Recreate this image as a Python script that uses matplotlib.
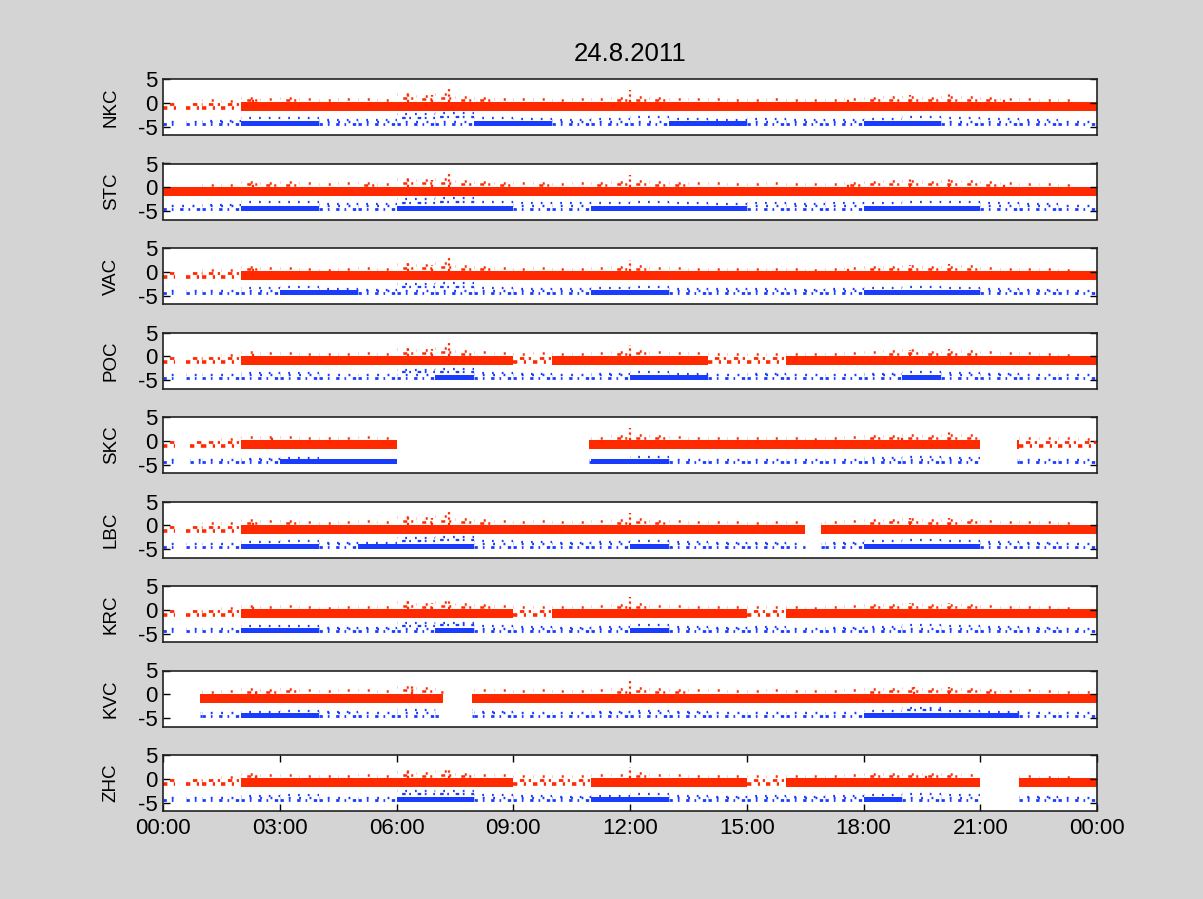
import matplotlib.pyplot as plt
import numpy as np

plt.rcParams['font.family'] = ['Liberation Sans', 'DejaVu Sans']

title = '24.8.2011'
stations = ['NKC', 'STC', 'VAC', 'POC', 'SKC', 'LBC', 'KRC', 'KVC', 'ZHC']

# hours (from 00:00) when each station delivered data
active = {
    'NKC': [(0, 0.35), (0.6, 24)],
    'STC': [(0, 24)],
    'VAC': [(0, 0.3), (0.6, 24)],
    'POC': [(0, 0.3), (0.6, 24)],
    'SKC': [(0, 0.3), (0.7, 6.0), (10.95, 21.0), (21.95, 24)],
    'LBC': [(0, 0.3), (0.6, 16.5), (16.9, 24)],
    'KRC': [(0, 0.3), (0.6, 24)],
    'KVC': [(0.95, 7.2), (7.95, 24)],
    'ZHC': [(0, 0.3), (0.6, 21.0), (22.0, 24)],
}

# half-hourly upper edge of the red trace
red_top = {
    'NKC': [-0.2, 0.0, 0.3, 0.2, 0.8, 0.6, 0.7, 0.5, 0.3, 0.5, 0.6, 0.3, 1.5, 1.2, 1.6, 1.0, 0.8, 0.6, 0.5, 0.6, 0.4, 0.5, 0.6, 0.8,
            1.0, 0.7, 0.6, 0.5, 0.5, 0.4, 0.3, 0.5, 0.4, 0.3, 0.3, 0.6, 0.8, 0.9, 1.0, 0.8, 0.9, 1.0, 0.7, 0.5, 0.6, 0.4, 0.3, 0.0],
    'STC': [-0.4, -0.2, 0.2, 0.3, 0.9, 0.7, 0.8, 0.6, 0.4, 0.6, 0.7, 0.5, 1.4, 1.3, 1.5, 1.1, 0.9, 0.7, 0.6, 0.7, 0.5, 0.6, 0.7, 0.9,
            1.1, 0.8, 0.7, 0.6, 0.6, 0.5, 0.4, 0.6, 0.5, 0.4, 0.4, 0.7, 0.9, 1.0, 1.1, 0.9, 1.0, 1.0, 0.8, 0.6, 0.5, 0.4, 0.2, -0.2],
    'VAC': [-0.4, -0.2, 0.1, 0.2, 0.7, 0.5, 0.6, 0.4, 0.2, 0.4, 0.5, 0.3, 1.3, 1.1, 1.6, 0.9, 0.7, 0.5, 0.4, 0.5, 0.3, 0.4, 0.5, 0.7,
            0.9, 0.6, 0.5, 0.4, 0.4, 0.3, 0.3, 0.4, 0.3, 0.2, 0.3, 0.5, 0.7, 0.8, 0.9, 0.7, 0.8, 0.9, 0.6, 0.4, 0.4, 0.3, 0.2, -0.2],
    'POC': [-0.4, -0.3, 0.0, 0.1, 0.6, 0.4, 0.5, 0.3, 0.2, 0.3, 0.4, 0.2, 1.2, 1.0, 1.5, 0.8, 0.6, 0.4, 0.3, 0.4, 0.3, 0.3, 0.4, 0.7,
            0.9, 0.6, 0.5, 0.4, 0.3, 0.3, 0.2, 0.3, 0.3, 0.2, 0.2, 0.4, 0.6, 0.8, 1.0, 0.7, 0.7, 0.8, 0.6, 0.4, 0.4, 0.3, 0.1, -0.2],
    'SKC': [-0.4, -0.3, 0.0, 0.2, 0.6, 0.5, 0.6, 0.4, 0.3, 0.4, 0.5, 0.3, 0.0, 0.0, 0.0, 0.0, 0.0, 0.0, 0.0, 0.0, 0.0, 0.0, 0.4, 0.7,
            1.0, 0.7, 0.6, 0.4, 0.4, 0.3, 0.3, 0.4, 0.3, 0.2, 0.3, 0.5, 0.7, 0.8, 1.0, 0.8, 0.9, 1.0, 0.3, 0.0, 0.4, 0.3, 0.3, 0.1],
    'LBC': [-0.4, -0.2, 0.2, 0.3, 0.8, 0.6, 0.7, 0.5, 0.3, 0.5, 0.6, 0.4, 1.4, 1.2, 1.6, 1.0, 0.8, 0.6, 0.5, 0.6, 0.4, 0.5, 0.6, 0.8,
            1.0, 0.7, 0.6, 0.5, 0.4, 0.4, 0.3, 0.5, 0.4, 0.3, 0.4, 0.6, 0.8, 0.9, 1.0, 0.8, 0.8, 0.9, 0.6, 0.4, 0.5, 0.4, 0.2, -0.1],
    'KRC': [-0.4, -0.3, 0.0, 0.2, 0.6, 0.4, 0.5, 0.3, 0.2, 0.3, 0.4, 0.3, 1.3, 1.0, 1.4, 0.9, 0.7, 0.5, 0.3, 0.4, 0.4, 0.4, 0.5, 0.7,
            0.9, 0.6, 0.5, 0.4, 0.4, 0.3, 0.3, 0.4, 0.3, 0.2, 0.3, 0.5, 0.7, 0.8, 0.9, 0.7, 0.8, 0.8, 0.6, 0.4, 0.4, 0.3, 0.1, -0.2],
    'KVC': [0.0, 0.0, 0.3, 0.5, 0.8, 0.7, 0.9, 0.6, 0.5, 0.6, 0.6, 0.4, 1.3, 1.0, 0.8, 0.0, 0.6, 0.6, 0.5, 0.6, 0.5, 0.5, 0.6, 0.8,
            1.0, 0.8, 0.7, 0.6, 0.6, 0.5, 0.5, 0.6, 0.5, 0.4, 0.5, 0.6, 0.8, 0.9, 1.0, 0.9, 0.9, 0.9, 0.7, 0.5, 0.6, 0.5, 0.3, 0.2],
    'ZHC': [-0.4, -0.3, 0.0, 0.2, 0.7, 0.5, 0.6, 0.4, 0.3, 0.4, 0.5, 0.3, 1.2, 1.0, 1.3, 0.8, 0.6, 0.5, 0.3, 0.4, 0.3, 0.4, 0.5, 0.6,
            0.9, 0.6, 0.5, 0.4, 0.4, 0.3, 0.3, 0.4, 0.4, 0.3, 0.3, 0.5, 0.7, 0.7, 0.8, 0.7, 0.7, 0.6, 0.0, 0.0, 0.3, 0.2, 0.1, -0.2],
}

# isolated high points of the red trace: (hour, value)
red_spikes = {
    'NKC': [(2.3, 1.0), (6.3, 2.0), (6.9, 1.6), (7.35, 3.0), (12.0, 2.7), (17.6, 1.0), (19.2, 1.6), (20.2, 1.8), (21.6, 1.2)],
    'STC': [(2.3, 1.2), (6.3, 2.0), (6.9, 1.6), (7.35, 2.9), (12.0, 2.6), (17.6, 1.1), (19.2, 1.7), (20.2, 1.7), (21.6, 1.2)],
    'VAC': [(2.3, 0.9), (6.3, 2.2), (6.9, 1.5), (7.35, 2.9), (12.0, 2.5), (17.6, 0.9), (19.2, 1.5), (20.2, 1.6)],
    'POC': [(2.3, 0.8), (6.3, 1.8), (6.9, 1.5), (7.35, 3.0), (12.0, 2.4), (19.2, 1.4), (20.2, 1.5)],
    'SKC': [(2.8, 1.2), (12.0, 2.6), (19.0, 1.2), (20.2, 1.8)],
    'LBC': [(2.3, 1.0), (6.3, 2.0), (6.9, 1.6), (7.35, 2.9), (12.0, 2.5), (19.2, 1.5), (20.2, 1.6)],
    'KRC': [(2.3, 0.9), (6.3, 1.9), (6.9, 1.4), (7.35, 2.2), (12.0, 2.6), (19.2, 1.4), (20.2, 1.5)],
    'KVC': [(2.4, 1.2), (6.4, 2.2), (12.0, 3.1), (19.3, 1.6), (20.2, 1.5)],
    'ZHC': [(2.4, 0.8), (6.3, 1.8), (7.35, 2.2), (12.0, 2.5), (19.6, 1.3)],
}

# hours where the red trace is only loosely dotted
red_sparse = {
    'NKC': [0, 1], 'STC': [], 'VAC': [0, 1], 'POC': [0, 1, 9, 14, 15], 'SKC': [0, 1, 22, 23],
    'LBC': [0, 1], 'KRC': [0, 1, 9, 15], 'KVC': [], 'ZHC': [0, 1, 9, 10, 15],
}

# hourly upper edge of the blue trace
blue_peak = {
    'NKC': [-4.2, -3.7, -3.2, -3.1, -3.5, -3.6, -2.4, -2.1, -3.2, -3.4, -3.5, -3.3, -3.0, -3.3, -3.5, -3.4, -3.6, -3.5, -3.3, -3.0, -3.1, -3.4, -3.6, -4.0],
    'STC': [-4.0, -3.6, -3.0, -3.0, -3.4, -3.4, -2.5, -2.2, -3.0, -3.2, -3.3, -3.2, -3.0, -3.2, -3.4, -3.3, -3.5, -3.3, -3.2, -3.0, -3.0, -3.2, -3.4, -3.8],
    'VAC': [-4.5, -3.9, -3.4, -3.2, -3.5, -3.7, -2.6, -2.4, -3.3, -3.5, -3.6, -3.4, -3.2, -3.5, -3.6, -3.5, -3.7, -3.6, -3.4, -3.2, -3.3, -3.5, -3.7, -4.2],
    'POC': [-4.5, -4.0, -3.5, -3.4, -3.8, -3.8, -2.8, -2.6, -3.4, -3.6, -3.8, -3.6, -3.3, -3.6, -3.8, -3.7, -3.8, -3.8, -3.6, -3.3, -3.4, -3.6, -3.8, -4.2],
    'SKC': [-4.5, -4.0, -3.7, -3.5, -3.8, -3.8, -4.0, -4.0, -4.0, -4.0, -4.0, -3.9, -3.4, -3.8, -3.9, -3.8, -3.9, -3.9, -3.6, -3.4, -3.5, -3.8, -3.9, -4.2],
    'LBC': [-4.6, -4.0, -3.4, -3.2, -3.6, -3.6, -2.6, -2.4, -3.3, -3.5, -3.6, -3.4, -3.2, -3.5, -3.6, -3.6, -3.8, -3.6, -3.3, -3.0, -3.2, -3.4, -3.6, -4.2],
    'KRC': [-4.6, -4.0, -3.4, -3.3, -3.7, -3.7, -2.8, -2.7, -3.4, -3.6, -3.7, -3.5, -3.2, -3.6, -3.7, -3.6, -3.8, -3.7, -3.5, -3.2, -3.4, -3.5, -3.7, -4.2],
    'KVC': [-4.5, -4.0, -3.6, -3.4, -3.7, -3.8, -3.2, -3.2, -3.6, -3.8, -3.8, -3.7, -3.4, -3.7, -3.8, -3.8, -3.9, -3.8, -3.4, -2.8, -3.4, -3.6, -3.8, -4.0],
    'ZHC': [-4.6, -4.0, -3.5, -3.4, -3.8, -3.8, -2.6, -2.6, -3.4, -3.6, -3.7, -3.5, -3.2, -3.6, -3.7, -3.6, -3.7, -3.6, -3.3, -3.2, -3.4, -3.6, -3.7, -4.2],
}

# hours with a dense (solid looking) blue band
blue_dense = {
    'NKC': [2, 3, 8, 9, 13, 14, 18, 19],
    'STC': [2, 3, 6, 7, 8, 11, 12, 13, 14, 18, 19, 20],
    'VAC': [3, 4, 11, 12, 18, 19, 20],
    'POC': [7, 12, 13, 19],
    'SKC': [3, 4, 5, 11, 12],
    'LBC': [2, 3, 5, 6, 7, 12, 18, 19, 20],
    'KRC': [2, 3, 7, 12],
    'KVC': [2, 3, 18, 19, 20, 21],
    'ZHC': [6, 7, 11, 12, 18],
}

red_col = '#ff2a00'
blue_col = '#1a3cff'
xtick_hours = [0, 3, 6, 9, 12, 15, 18, 21, 24]
xtick_labels = ['00:00', '03:00', '06:00', '09:00', '12:00', '15:00', '18:00', '21:00', '00:00']

# dash patterns that give the dotted look of sparse samples
dust_a = (0, (1.2, 1.8, 0.6, 2.4))
dust_b = (1.5, (0.8, 3.0, 1.6, 1.6))
dust_c = (0.7, (0.8, 3.6))


def pieces(intervals, step):
    # cut the active intervals into pieces lying inside single bins
    out = []
    for a, b in intervals:
        k0, k1 = int(np.floor(a / step)), int(np.ceil(b / step))
        for k in range(k0, k1):
            lo, hi = max(a, k * step), min(b, (k + 1) * step)
            if hi > lo:
                out.append((k, lo, hi - lo))
    return out


def runs(spans):
    # merge touching (left, width) spans so solid bands have no seams
    merged = []
    for left, width in spans:
        if merged and abs(merged[-1][0] + merged[-1][1] - left) < 1e-9:
            merged[-1][1] += width
        else:
            merged.append([left, width])
    return merged


def row(ax, y, left, width, color, style, lw=2.0):
    ax.hlines(y, left, left + width, colors=color, linestyles=style, linewidth=lw)


def solid(ax, spans, bottom, h, color):
    for left, width in runs(spans):
        ax.bar(left, h, width=width, bottom=bottom, align='edge', color=color, linewidth=0)


def draw_red(ax, st):
    base, core = -1.7, 0.1
    filled = []
    for k, left, width in pieces(active[st], 0.5):
        if k // 2 in red_sparse[st]:
            row(ax, -1.1, left, width, red_col, dust_a, 2.6)
            row(ax, -0.3, left, width, red_col, dust_b, 2.0)
        else:
            filled.append((left, width))
        top = red_top[st][k] + 0.3
        if top > core + 0.2:
            row(ax, top, left, width, red_col, dust_c, 1.8)
            if top - core > 0.8:
                row(ax, (top + core) / 2, left, width, red_col, dust_b, 1.8)
    solid(ax, filled, base, core - base, red_col)
    for t, v in red_spikes[st]:
        ax.vlines(t, core, v, colors=red_col, linewidth=1.6, linestyles=(0, (1, 1.4)))


def draw_blue(ax, st):
    base, core = -4.9, -3.8
    filled = []
    for k, left, width in pieces(active[st], 1.0):
        if k in blue_dense[st]:
            filled.append((left, width))
        else:
            row(ax, -4.5, left, width, blue_col, dust_a, 2.0)
            row(ax, -3.9, left, width, blue_col, dust_c, 1.7)
        top = blue_peak[st][k]
        if top > core:
            row(ax, top, left, width, blue_col, dust_c, 1.6)
            if top - core > 0.8:
                row(ax, (top + core) / 2, left, width, blue_col, dust_b, 1.6)
    solid(ax, filled, base, core - base, blue_col)


fig = plt.figure(figsize=(12.03, 8.99), dpi=100, facecolor='#d4d4d4')
left, right = 163 / 1203, 1097 / 1203
top_px, pitch, height = 79, 84.5, 56

for i, st in enumerate(stations):
    y0 = 1 - (top_px + i * pitch + height) / 899
    ax = fig.add_axes([left, y0, right - left, height / 899])
    draw_red(ax, st)
    draw_blue(ax, st)
    ax.set_xlim(0, 24)
    ax.set_ylim(-6.7, 5)
    ax.set_yticks([-5, 0, 5])
    ax.set_yticklabels(['-5', '0', '5'])
    ax.set_ylabel(st, fontsize=13.5, labelpad=13)
    ax.tick_params(direction='in', length=5, width=1, labelsize=16, right=True, top=True, pad=4)
    if i == len(stations) - 1:
        ax.set_xticks(xtick_hours)
        ax.set_xticklabels(xtick_labels)
        ax.tick_params(axis='x', pad=5)
    else:
        ax.set_xticks([])
    for sp in ax.spines.values():
        sp.set_linewidth(1.2)
        sp.set_color('#222222')
        sp.set_zorder(3)
    if i == 0:
        ax.set_title(title, fontsize=18.5, pad=13)

fig.savefig('out.png', dpi=100, facecolor=fig.get_facecolor())
